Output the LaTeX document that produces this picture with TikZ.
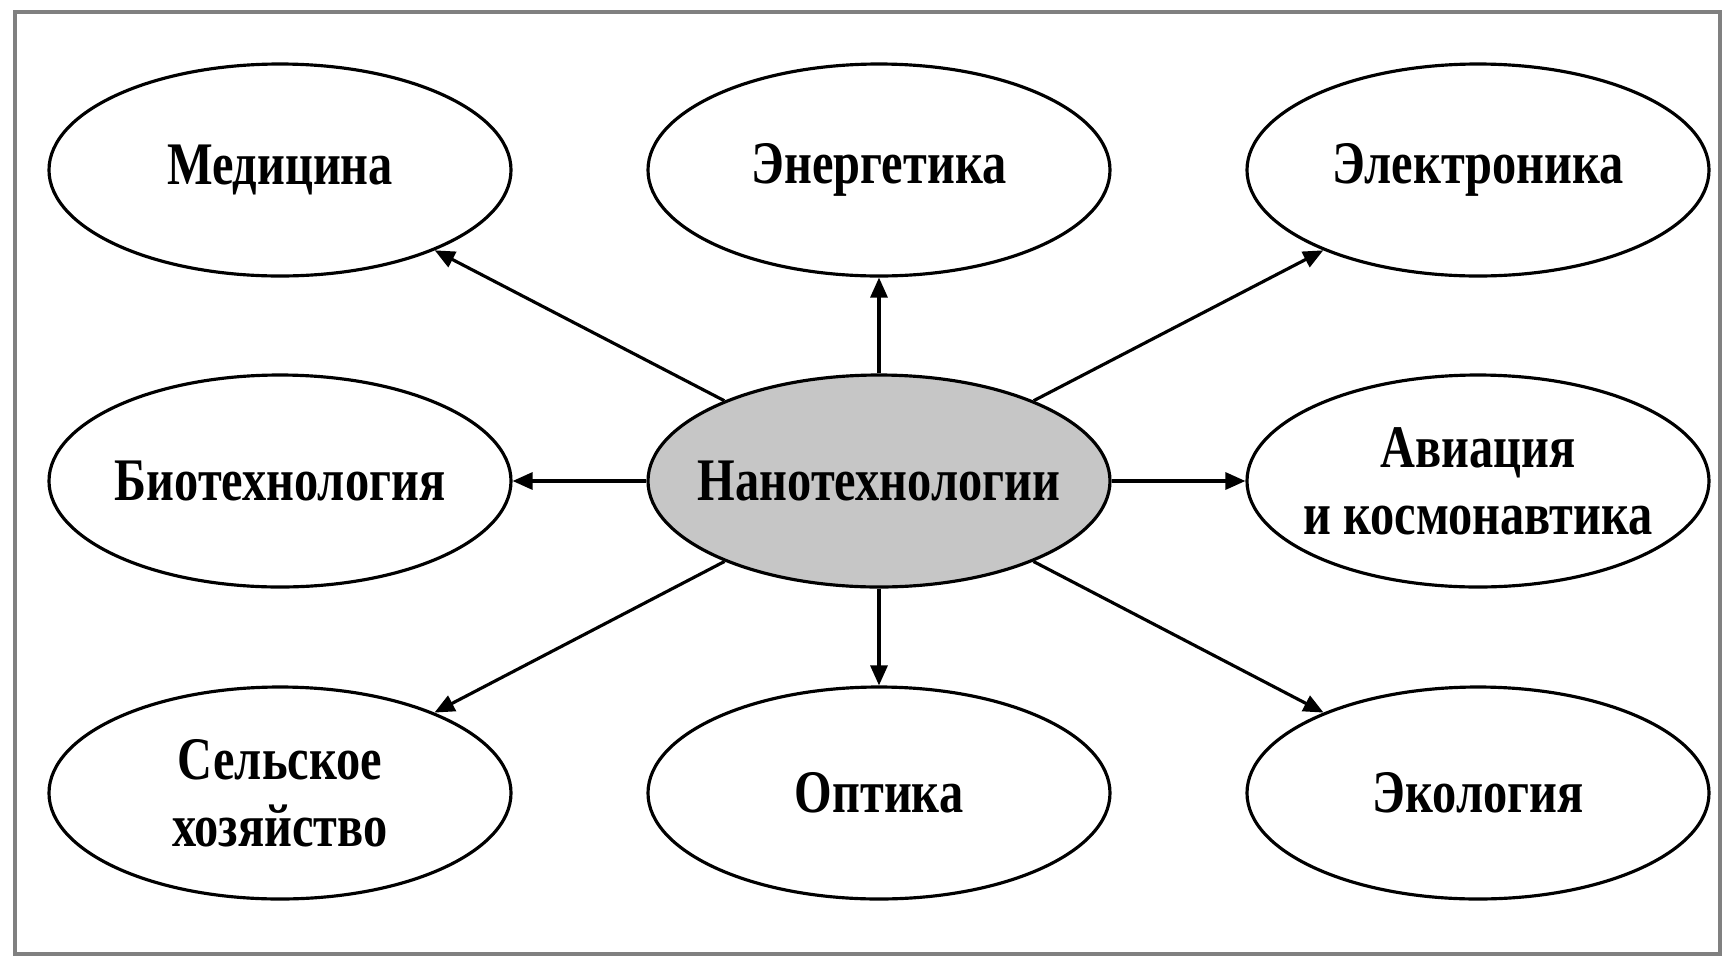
\documentclass[tikz,border=0pt]{standalone}
\usepackage{fontspec}
\setmainfont{Liberation Serif}[FakeStretch=0.8]
\usepackage{tikz}
\usetikzlibrary{shapes.geometric,arrows.meta}

\begin{document}
\begin{tikzpicture}[
    area/.style={ellipse, draw, line width=0.9pt, minimum width=4.62cm, minimum height=2.12cm,
        inner xsep=-0.3cm, inner ysep=0pt, align=center, font=\fontsize{17.2}{19}\selectfont\bfseries},
    core/.style={area, fill=gray!45},
    link/.style={line width=0.9pt, -{Triangle[length=2mm, width=1.7mm]}}
]
    \useasboundingbox (0, 0) rectangle (17.23, 9.57);
    \draw[gray, line width=1pt] (0.15, 0.03) rectangle (17.20, 9.45);

    \node[core] (nano) at (8.79, 4.76) {Нанотехнологии};

    \node[area] (med) at (2.80, 7.87) {Медицина};
    \node[area] (energy) at (8.79, 7.87) {Энергетика};
    \node[area] (electro) at (14.78, 7.87) {Электроника};

    \node[area] (bio) at (2.80, 4.76) {Биотехнология};
    \node[area] (avia) at (14.78, 4.76) {Авиация\\и космонавтика};

    \node[area] (agro) at (2.80, 1.64) {Сельское\\хозяйство};
    \node[area] (optics) at (8.79, 1.64) {Оптика};
    \node[area] (eco) at (14.78, 1.64) {Экология};

    \draw[link] (nano) -- (med);
    \draw[link] (nano) -- (energy);
    \draw[link] (nano) -- (electro);
    \draw[link] (nano) -- (bio);
    \draw[link] (nano) -- (avia);
    \draw[link] (nano) -- (agro);
    \draw[link] (nano) -- (optics);
    \draw[link] (nano) -- (eco);
\end{tikzpicture}
\end{document}
